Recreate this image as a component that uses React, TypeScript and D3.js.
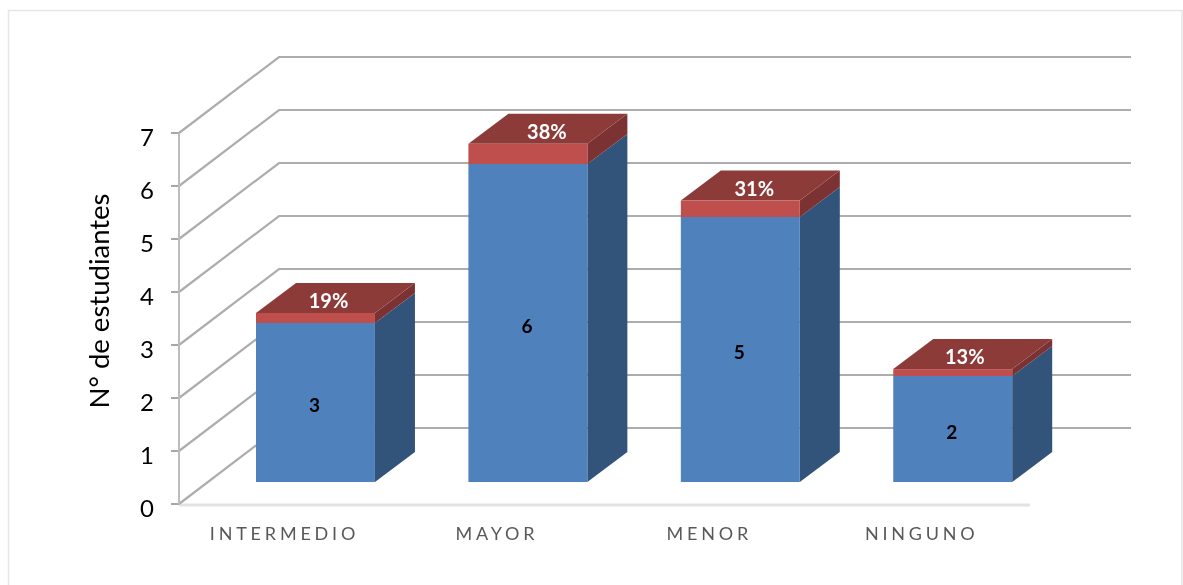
import React from "react";
import * as d3 from "d3";

const categories = ["INTERMEDIO", "MAYOR", "MENOR", "NINGUNO"];
const counts = [3, 6, 5, 2];
const shares = [19, 38, 31, 13];
const yTicks = [0, 1, 2, 3, 4, 5, 6, 7];

const W = 1183, H = 585;
const FONT = "Lato, 'Open Sans', sans-serif";
const y = d3.scaleLinear().domain([0, 7]).range([504, 133]);
const x = d3.scaleBand().domain(categories).range([256, 1012.2]).paddingInner(0.44).paddingOuter(0);
const wall = { dx: 100, dy: -76 };
const depth = { dx: 40, dy: -30 };
const lift = 22;
const pctNudge = [-7, -1, -6, -8];
const catShift = -31;
const grid = "#adadad";

const poly = (pts: number[][]) => pts.map(p => p.join(",")).join(" ");

export default function App() {
  const barW = x.bandwidth();
  return (
    <svg width={W} height={H} viewBox={`0 0 ${W} ${H}`} style={{ position: "absolute", left: 0, top: 0, background: "#fff" }} fontFamily={FONT}>
      <defs>
        <filter id="soft" x="-5%" y="-5%" width="110%" height="110%">
          <feGaussianBlur stdDeviation="0.55" />
        </filter>
        <filter id="softText" x="-5%" y="-5%" width="110%" height="110%">
          <feGaussianBlur stdDeviation="0.3" />
        </filter>
      </defs>
      <path d={`M8.5 585V10.5H1182V585`} fill="none" stroke="#e6e6e6" strokeWidth={1.5} />
      <g filter="url(#soft)">
        <line x1={179} x2={1030} y1={505} y2={505} stroke="#e3e3e3" strokeWidth={3} />
        {yTicks.map(t => (
          <g key={t}>
            <line x1={171} x2={179} y1={y(t)} y2={y(t)} stroke="#8a8a8a" strokeWidth={1.5} />
            <polyline points={poly([[179, y(t)], [179 + wall.dx, y(t) + wall.dy], [1131, y(t) + wall.dy]])} fill="none" stroke={grid} strokeWidth={2.2} />
          </g>
        ))}
        <line x1={179} x2={179} y1={y(7)} y2={y(0)} stroke="#bcbcbc" strokeWidth={2} />
        {categories.map((c, i) => {
          const x0 = x(c) as number, x1 = x0 + barW;
          const base = y(0) - lift;
          const yb = y(counts[i]) - lift;
          const yr = y(counts[i] + shares[i] / 100) - lift;
          return (
            <g key={c}>
              <polygon points={poly([[x1, base], [x1 + depth.dx, base + depth.dy], [x1 + depth.dx, yb + depth.dy], [x1, yb]])} fill="#31527a" />
              <polygon points={poly([[x1, yb], [x1 + depth.dx, yb + depth.dy], [x1 + depth.dx, yr + depth.dy], [x1, yr]])} fill="#7c3331" />
              <polygon points={poly([[x0, yr], [x1, yr], [x1 + depth.dx, yr + depth.dy], [x0 + depth.dx, yr + depth.dy]])} fill="#8c3b39" />
              <rect x={x0} y={yb} width={barW} height={base - yb} fill="#4f81bd" />
              <rect x={x0} y={yr} width={barW} height={yb - yr} fill="#be504d" />
            </g>
          );
        })}
      </g>
      <g filter="url(#softText)">
        {categories.map((c, i) => {
          const x0 = x(c) as number;
          const base = y(0) - lift;
          const yb = y(counts[i]) - lift;
          const yr = y(counts[i] + shares[i] / 100) - lift;
          return (
            <g key={c} textAnchor="middle" fontWeight={700}>
              <text x={x0 + barW / 2 - 1} y={(base + yb) / 2 + 9.5} fontSize={19} fill="#000">{counts[i]}</text>
              <text x={x0 + (barW + depth.dx) / 2 + pctNudge[i]} y={yr + depth.dy / 2 + 10} fontSize={20} fill="#fff">{shares[i]}%</text>
              <text x={x0 + barW / 2 + catShift} y={540} fontSize={18} fontWeight={400} fill="#595959" letterSpacing={3.8}>{c}</text>
            </g>
          );
        })}
        {yTicks.map(t => (
          <text key={t} x={147} y={y(t) + 12.5} fontSize={24} textAnchor="middle" fill="#000">{t}</text>
        ))}
        <text transform="translate(109,301) rotate(-90)" fontSize={27.5} textAnchor="middle" fill="#000">N° de estudiantes</text>
      </g>
    </svg>
  );
}
